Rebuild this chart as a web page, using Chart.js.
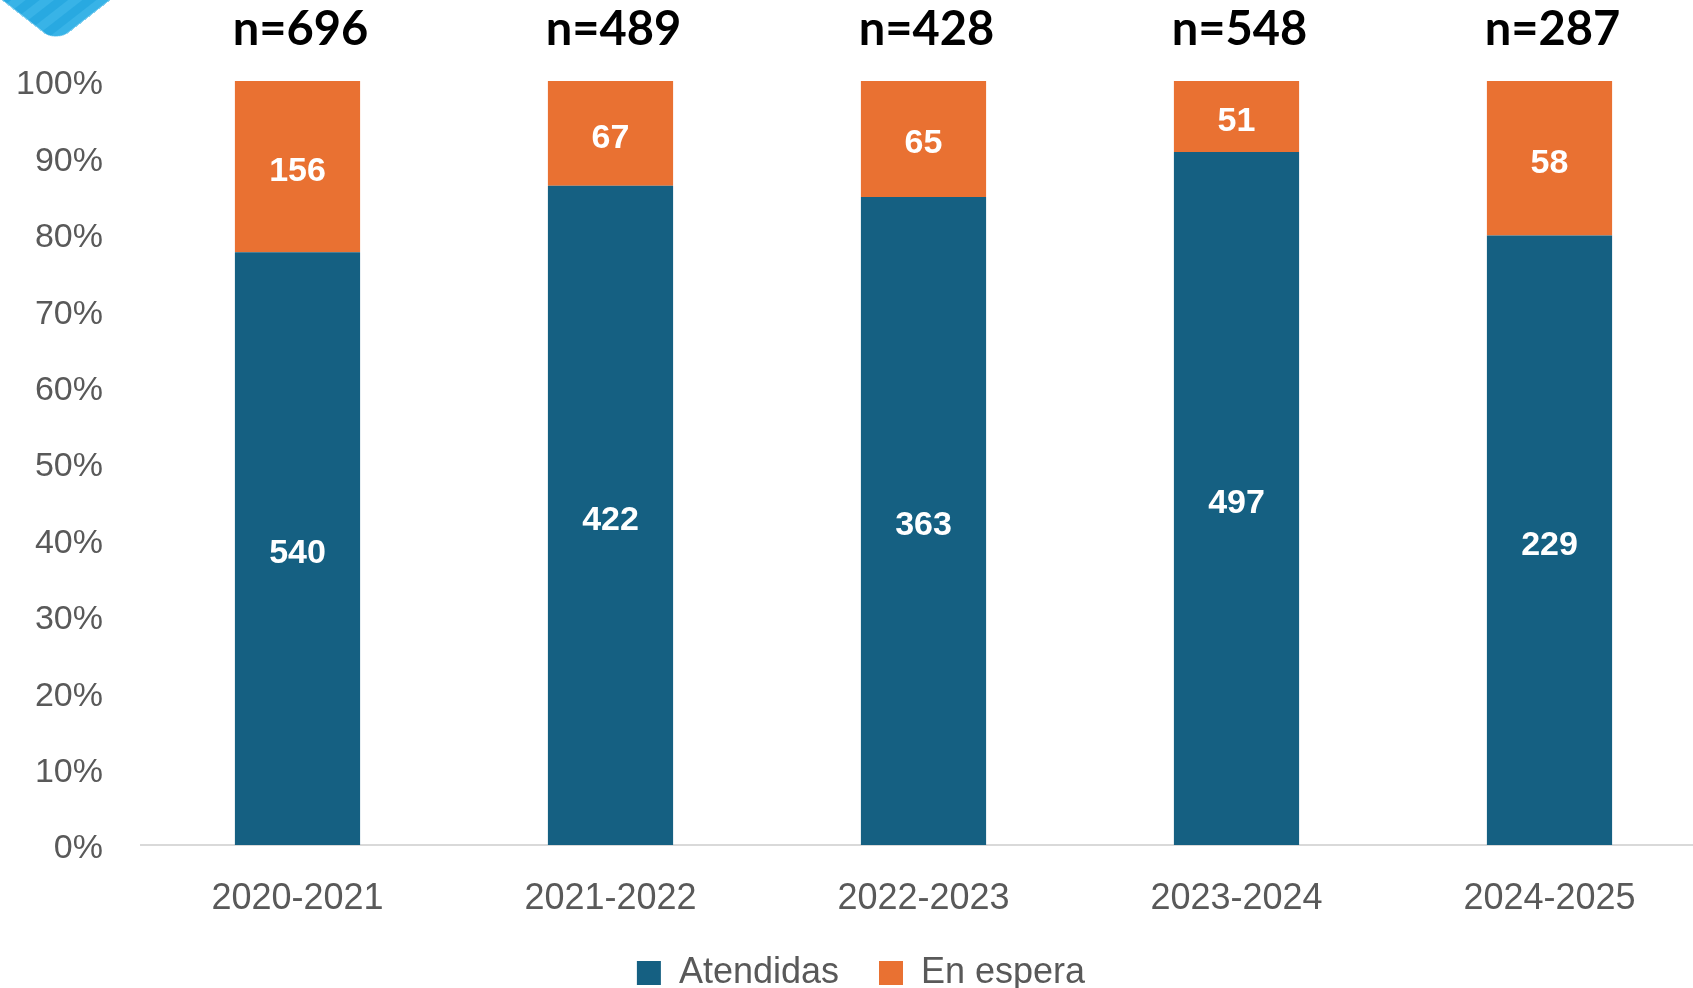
<!DOCTYPE html>
<html lang="es">
<head>
    <meta charset="UTF-8">
    <title>Atendidas vs En espera</title>
    <script src="https://cdn.jsdelivr.net/npm/chart.js@4.4.1/dist/chart.umd.min.js"></script>
    <style>
        body {
            margin: 0;
            padding: 0;
            background: #ffffff;
            overflow: hidden;
            font-family: 'Liberation Sans', Arial, sans-serif;
        }
        .wrap {
            position: relative;
            width: 1710px;
            height: 988px;
        }
        .corner {
            position: absolute;
            left: -4px;
            top: -84px;
            width: 120px;
            height: 120px;
            border-radius: 18px;
            transform: scaleY(0.78) rotate(45deg);
            background: repeating-linear-gradient(90deg, #28a9e1 0px, #28a9e1 10px, #38b3e7 10px, #38b3e7 20px);
            z-index: 2;
        }
    </style>
</head>
<body>
    <div class="wrap">
        <div class="corner"></div>
        <canvas id="chart"></canvas>
    </div>

    <script>
        const periodos = ['2020-2021', '2021-2022', '2022-2023', '2023-2024', '2024-2025'];
        const atendidas = [540, 422, 363, 497, 229];
        const enEspera = [156, 67, 65, 51, 58];
        const yTicks = [0, 10, 20, 30, 40, 50, 60, 70, 80, 90, 100];

        const totales = periodos.map((p, i) => atendidas[i] + enEspera[i]);
        const pct = (arr) => arr.map((v, i) => v / totales[i] * 100);

        const colorAzul = '#156082';
        const colorNaranja = '#E97132';

        // numeros dentro de cada barra + n= arriba
        const etiquetas = {
            id: 'etiquetas',
            afterDatasetsDraw(chart) {
                const ctx = chart.ctx;
                ctx.save();
                ctx.textAlign = 'center';
                ctx.textBaseline = 'middle';
                ctx.fillStyle = '#ffffff';
                ctx.font = 'bold 34px "Liberation Sans", Arial, sans-serif';
                chart.data.datasets.forEach((ds, di) => {
                    chart.getDatasetMeta(di).data.forEach((bar, i) => {
                        ctx.fillText(ds.counts[i], bar.x, (bar.y + bar.base) / 2 + 5);
                    });
                });
                ctx.fillStyle = '#000000';
                ctx.font = 'bold 47px Lato, sans-serif';
                const top = chart.getDatasetMeta(1).data;
                top.forEach((bar, i) => {
                    ctx.fillText('n=' + totales[i], bar.x + 3, chart.chartArea.top - 51);
                });
                ctx.restore();
            }
        };

        new Chart(document.getElementById('chart'), {
            type: 'bar',
            data: {
                labels: periodos,
                datasets: [{
                    label: 'Atendidas',
                    data: pct(atendidas),
                    counts: atendidas,
                    backgroundColor: colorAzul,
                    categoryPercentage: 1,
                    barPercentage: 0.4
                }, {
                    label: 'En espera',
                    data: pct(enEspera),
                    counts: enEspera,
                    backgroundColor: colorNaranja,
                    categoryPercentage: 1,
                    barPercentage: 0.4
                }]
            },
            options: {
                responsive: true,
                maintainAspectRatio: false,
                animation: false,
                layout: {
                    padding: { top: 81, left: 16, right: 4, bottom: -13 }
                },
                plugins: {
                    legend: {
                        position: 'bottom',
                        labels: {
                            boxWidth: 24,
                            boxHeight: 24,
                            color: '#595959',
                            padding: 40,
                            font: { size: 36, family: '"Liberation Sans", Arial, sans-serif' }
                        }
                    },
                    tooltip: { enabled: false }
                },
                scales: {
                    x: {
                        stacked: true,
                        afterFit: (axis) => { axis.height = 70; },
                        grid: { display: false, drawTicks: false },
                        border: { display: true, color: '#d9d9d9', width: 2 },
                        ticks: {
                            color: '#595959',
                            padding: 32,
                            maxRotation: 0,
                            font: { size: 36, family: '"Liberation Sans", Arial, sans-serif' }
                        }
                    },
                    y: {
                        stacked: true,
                        min: yTicks[0],
                        max: yTicks[yTicks.length - 1],
                        afterBuildTicks: (axis) => { axis.ticks = yTicks.map(v => ({ value: v })); },
                        afterFit: (axis) => { axis.width = 125; },
                        grid: { display: false, drawTicks: false },
                        border: { display: false },
                        ticks: {
                            color: '#595959',
                            padding: 38,
                            labelOffset: 4,
                            font: { size: 34, family: '"Liberation Sans", Arial, sans-serif' },
                            callback: (v) => v + '%'
                        }
                    }
                }
            },
            plugins: [etiquetas]
        });
    </script>
</body>
</html>
